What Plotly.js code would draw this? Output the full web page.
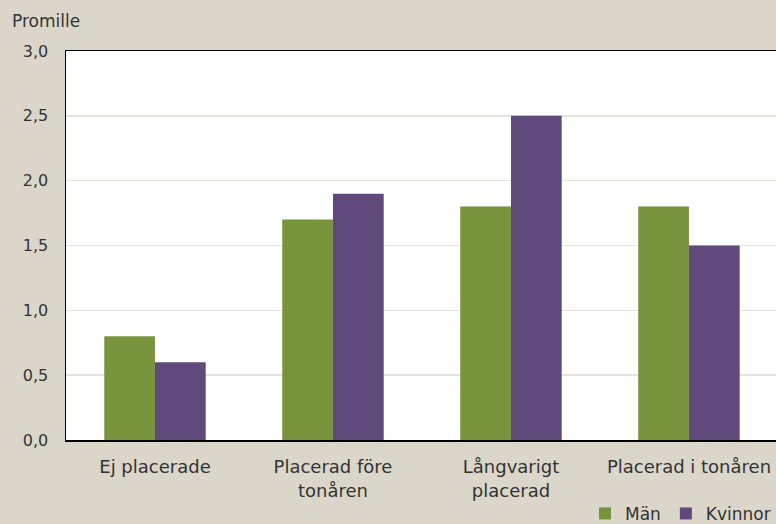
<!DOCTYPE html>
<html>
<head>
<meta charset="utf-8">
<script src="https://cdn.plot.ly/plotly-3.0.1.min.js"></script>
<style>
  html, body { margin: 0; padding: 0; background: #dad7ca; }
  #chart { width: 776px; height: 524px; }
</style>
</head>
<body>
<div id="chart"></div>
<script>
// Kategorier och värden (promille)
const categories = ['Ej placerade', 'Placerad före<br>tonåren', 'Långvarigt<br>placerad', 'Placerad i tonåren'];
const manValues = [0.8, 1.7, 1.8, 1.8];
const kvinnorValues = [0.6, 1.9, 2.5, 1.5];
const yTicks = [0, 0.5, 1.0, 1.5, 2.0, 2.5, 3.0];

const fontFamily = '"DejaVu Sans", "Open Sans", sans-serif';
const textColor = '#333333';

const traces = [
  { type: 'bar', name: 'Män', x: categories, y: manValues,
    marker: { color: '#77933c' }, hoverinfo: 'y' },
  { type: 'bar', name: 'Kvinnor', x: categories, y: kvinnorValues,
    marker: { color: '#604a7b' }, hoverinfo: 'y' }
];

const layout = {
  width: 776, height: 524,
  paper_bgcolor: '#dad7ca',
  plot_bgcolor: '#ffffff',
  margin: { l: 66, r: 0, t: 51, b: 84, autoexpand: false },
  barmode: 'group',
  bargap: 0.43,
  bargroupgap: 0,
  separators: ',.',
  font: { family: fontFamily, size: 16, color: textColor },
  showlegend: true,
  legend: {
    orientation: 'h', x: 1.0, xanchor: 'right', y: -0.19, yanchor: 'middle',
    bgcolor: 'rgba(0,0,0,0)', font: { size: 17, color: textColor },
    itemwidth: 30, tracegroupgap: 0, traceorder: 'normal'
  },
  xaxis: {
    type: 'category', range: [-0.5, 3.489], fixedrange: true, automargin: false,
    showline: true, linecolor: '#000000', linewidth: 1.5, mirror: true,
    ticks: '', ticklabelstandoff: 10,
    tickfont: { size: 18, color: textColor }
  },
  yaxis: {
    range: [0, 3.0], tickvals: yTicks, tickformat: '.1f', fixedrange: true, automargin: false,
    showline: true, linecolor: '#000000', linewidth: 1.5,
    showgrid: true, gridcolor: '#e6e3dd', gridwidth: 1.5,
    zeroline: false, ticks: '', ticklabelstandoff: 13,
    tickfont: { size: 16, color: textColor }
  },
  annotations: [{
    text: 'Promille', xref: 'paper', yref: 'paper',
    x: -0.079, y: 1.077, xanchor: 'left', yanchor: 'middle',
    showarrow: false, font: { size: 17, color: textColor }
  }]
};

Plotly.newPlot('chart', traces, layout, { displayModeBar: false, staticPlot: true });
</script>
</body>
</html>
